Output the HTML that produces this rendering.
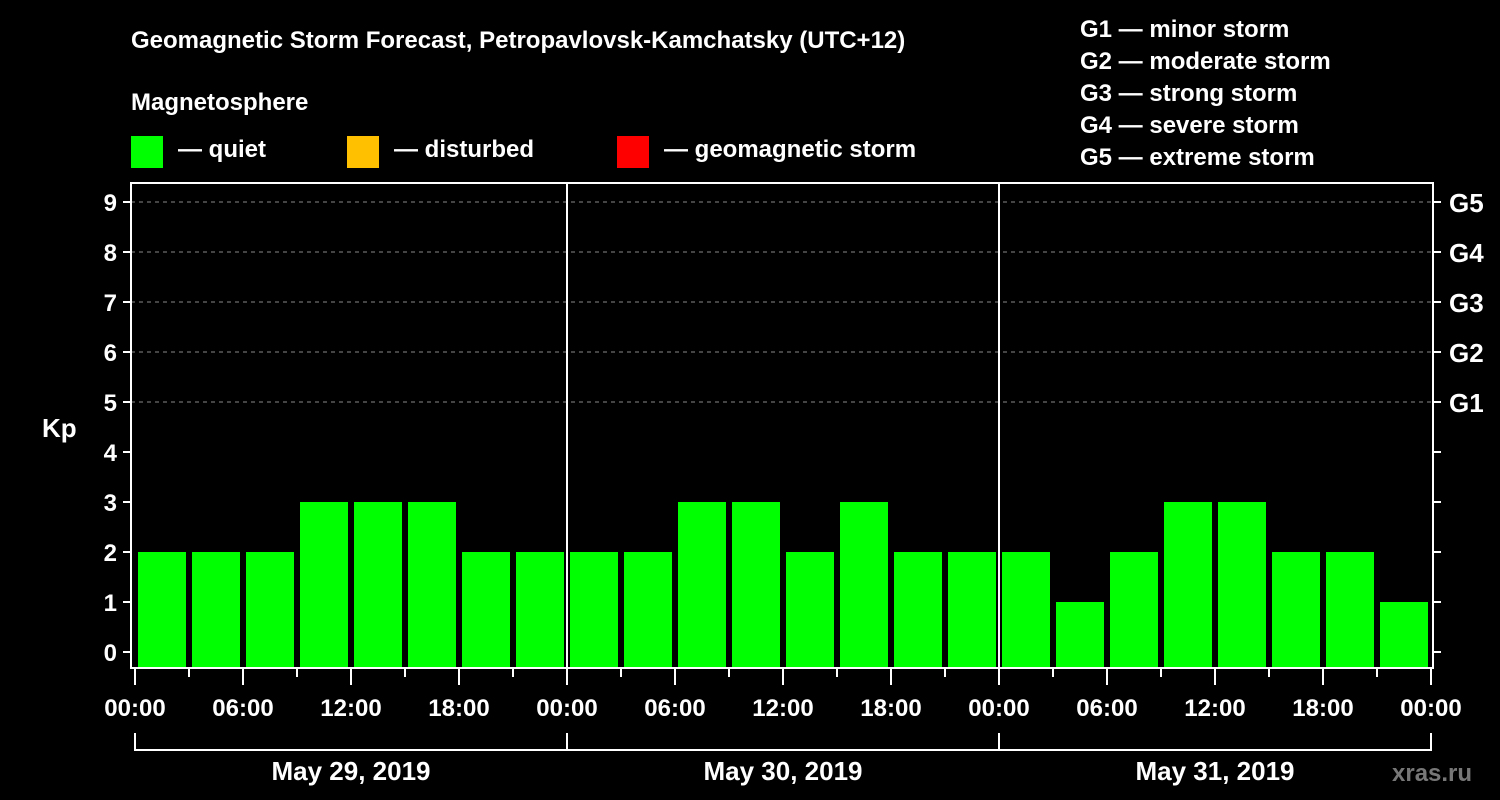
<!DOCTYPE html>
<html><head><meta charset="utf-8"><style>
body{margin:0;background:#000;}
svg{display:block;font-family:"Liberation Sans",Arial,sans-serif;font-weight:bold;fill:#fff;}
</style></head><body>
<svg id="chart" width="1500" height="800" viewBox="0 0 1500 800">
<rect width="1500" height="800" fill="#000"/>
<text x="131" y="48" font-size="24">Geomagnetic Storm Forecast, Petropavlovsk-Kamchatsky (UTC+12)</text>
<text x="131" y="110" font-size="24">Magnetosphere</text>
<g><rect x="131" y="136" width="32" height="32" fill="#00ff00"/><text x="178" y="157" font-size="24">— quiet</text></g>
<g><rect x="347" y="136" width="32" height="32" fill="#ffc000"/><text x="394" y="157" font-size="24">— disturbed</text></g>
<g><rect x="617" y="136" width="32" height="32" fill="#ff0000"/><text x="664" y="157" font-size="24">— geomagnetic storm</text></g>
<g font-size="24">
<text x="1080" y="37">G1 — minor storm</text>
<text x="1080" y="69">G2 — moderate storm</text>
<text x="1080" y="101">G3 — strong storm</text>
<text x="1080" y="133">G4 — severe storm</text>
<text x="1080" y="165">G5 — extreme storm</text>
</g>
<text x="42" y="437" font-size="26">Kp</text>
<text x="1392" y="781" font-size="24" fill="#666" style="fill:#777">xras.ru</text>
<g id="plot"></g>
</svg>
<script>
const kpValues=[2,2,2,3,3,3,2,2, 2,2,3,3,2,3,2,2, 2,1,2,3,3,2,2,1];
const yTicks=[0,1,2,3,4,5,6,7,8,9];
const gLabels=["G1","G2","G3","G4","G5"];
const gLevels=[5,6,7,8,9];
const xTickLabels=["00:00","06:00","12:00","18:00","00:00","06:00","12:00","18:00","00:00","06:00","12:00","18:00","00:00"];
const dayLabels=["May 29, 2019","May 30, 2019","May 31, 2019"];

const NS="http://www.w3.org/2000/svg";
const g=document.getElementById('plot');
const L=131,R=1433,T=183,B=668,X0=135,SLOT=54;
const y=v=>652-v*50;
const x=i=>X0+i*SLOT;
function mk(t,a,txt){const e=document.createElementNS(NS,t);for(const k in a)e.setAttribute(k,a[k]);if(txt!==undefined)e.textContent=txt;g.appendChild(e);return e;}
gLevels.forEach(v=>{
 const e=mk('line',{x1:L,x2:R,y1:y(v),y2:y(v),stroke:'#888','stroke-dasharray':'4,4','stroke-width':1});
 
 
});
kpValues.forEach((v,i)=>{
 const e=mk('rect',{x:x(i)+3,y:y(v),width:48,height:B-y(v),fill:v>=5?'#ff0000':(v>=4?'#ffc000':'#00ff00')});
 
 
});
[1,2].forEach(d=>{
 const e=mk('line',{x1:x(d*8),x2:x(d*8),y1:T,y2:B,stroke:'#fff','stroke-width':2});
 
 
});
const fr=mk('rect',{x:L,y:T,width:R-L,height:B-T,fill:'none',stroke:'#fff','stroke-width':2});


yTicks.forEach(v=>{
 mk('line',{x1:L-8,x2:L,y1:y(v),y2:y(v),stroke:'#fff','stroke-width':2});
 mk('line',{x1:R,x2:R+8,y1:y(v),y2:y(v),stroke:'#fff','stroke-width':2});
 const t=mk('text',{x:L-14,y:y(v)+9,'font-size':24,'text-anchor':'end'},v);
 
 
});
gLevels.forEach((v,i)=>{
 const t=mk('text',{x:R+16,y:y(v)+10,'font-size':26},gLabels[i]);
 
 
});
for(let i=0;i<=24;i++){
 const major=i%2===0;
 mk('line',{x1:x(i),x2:x(i),y1:B,y2:B+(major?17:9),stroke:'#fff','stroke-width':2});
 if(major){
  const t=mk('text',{x:x(i),y:716,'font-size':24,'text-anchor':'middle'},xTickLabels[i/2]);
  
  
 }
}
dayLabels.forEach((d,i)=>{
 const a=x(i*8),b=x(i*8+8);
 mk('path',{d:`M${a},733 V750 H${b} V733`,stroke:'#fff','stroke-width':2,fill:'none'});
 const t=mk('text',{x:(a+b)/2,y:780,'font-size':26,'text-anchor':'middle'},d);
 
 
});
</script>
</body></html>
